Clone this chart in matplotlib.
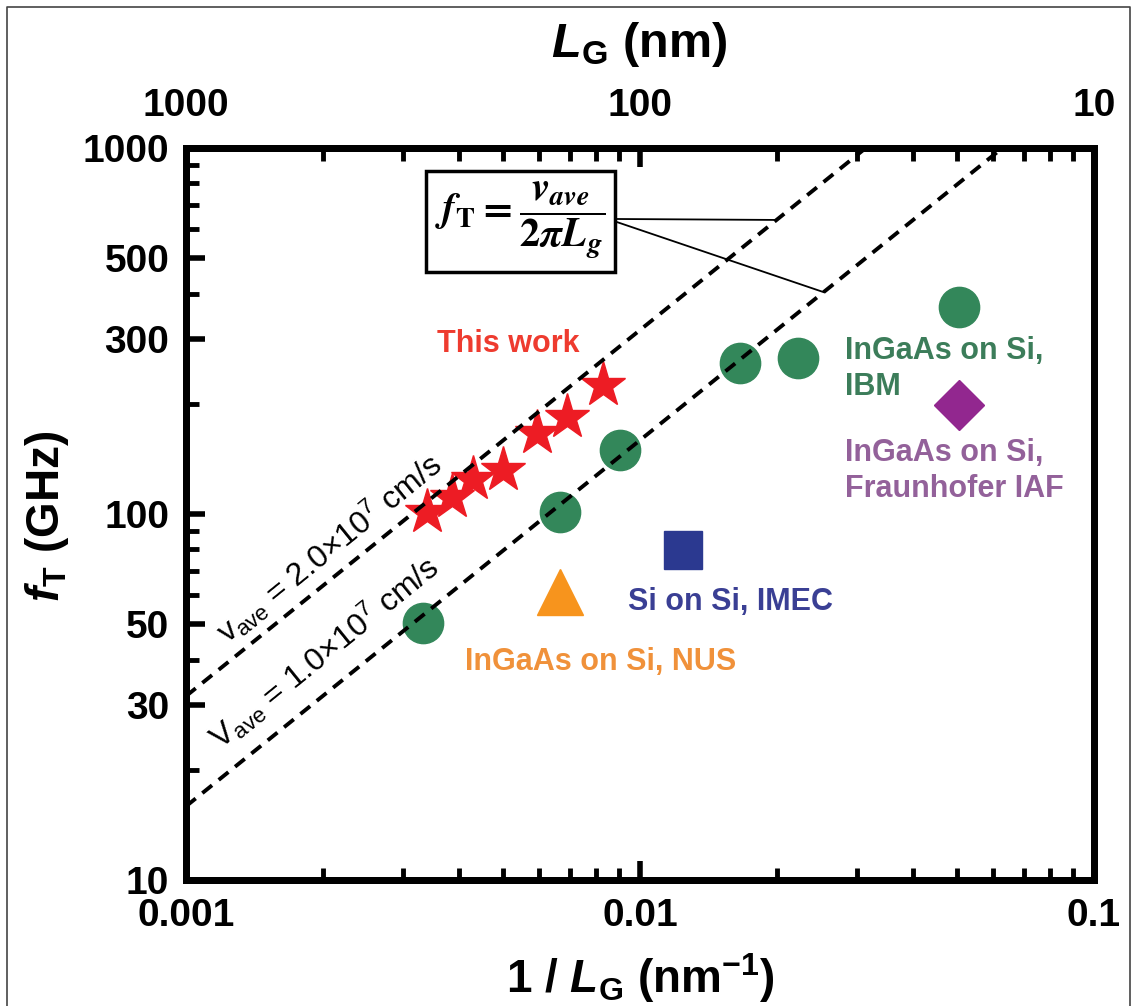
import numpy as np
import matplotlib
matplotlib.use('Agg')
import matplotlib.pyplot as plt
from matplotlib.lines import Line2D
from matplotlib.ticker import NullFormatter

plt.rcParams['font.family'] = ['Liberation Sans', 'DejaVu Sans']
plt.rcParams['font.weight'] = 'bold'
plt.rcParams['mathtext.fontset'] = 'custom'
plt.rcParams['mathtext.rm'] = 'Liberation Sans:normal'
plt.rcParams['mathtext.it'] = 'Liberation Sans:italic:normal'
plt.rcParams['mathtext.bf'] = 'Liberation Sans:bold'
plt.rcParams['mathtext.bfit'] = 'Liberation Sans:italic:bold'

# this work (stars)
star_x = [0.00340, 0.00385, 0.00428, 0.00499, 0.00593, 0.00690, 0.00828]
star_y = [101, 111, 125, 132, 166, 184, 225]
# InGaAs on Si, IBM (circles)
ibm_x = [0.00332, 0.00666, 0.00904, 0.01663, 0.02233, 0.0503]
ibm_y = [50.4, 101, 150, 258, 267, 368]
# InGaAs on Si, NUS
nus_x = [0.00666]
nus_y = [61.2]
# Si on Si, IMEC
imec_x = [0.01244]
imec_y = [79.8]
# InGaAs on Si, Fraunhofer IAF
iaf_x = [0.0503]
iaf_y = [198.6]

# v_ave guide lines, end points
line_x = [0.001, 0.1]
v2_f = [31.8, 3183]
v1_f = [15.9, 1592]

yticks = [10, 30, 50, 100, 300, 500, 1000]
ytick_labels = ['10', '30', '50', '100', '300', '500', '1000']
xticks = [0.001, 0.01, 0.1]
xtick_labels = ['0.001', '0.01', '0.1']
top_labels = ['1000', '100', '10']

red = '#ed1c24'
green = '#33875a'
orange = '#f7941d'
blue = '#2b3990'
purple = '#92278f'

W, H = 1136, 1006
fig = plt.figure(figsize=(W / 100, H / 100), dpi=100)
ax = fig.add_axes([186 / W, 126 / H, 908 / W, 732 / H])
ax.set_xscale('log')
ax.set_yscale('log')

ax.plot(ibm_x, ibm_y, ls='none', marker='o', ms=29, color=green, zorder=2)
ax.plot(star_x, star_y, ls='none', marker='*', ms=34, color=red, zorder=2)
ax.plot(nus_x, nus_y, ls='none', marker='^', ms=33, color=orange, zorder=2)
ax.plot(imec_x, imec_y, ls='none', marker='s', ms=27, color=blue, zorder=2)
ax.plot(iaf_x, iaf_y, ls='none', marker='D', ms=25, color=purple, zorder=2)

ax.plot(line_x, v2_f, color='k', lw=2.8, ls=(0, (3.2, 2.2)), zorder=3)
ax.plot(line_x, v1_f, color='k', lw=2.8, ls=(0, (3.2, 2.2)), zorder=3)

ax.set_xlim(0.001, 0.1)
ax.set_ylim(10, 1000)

ax.set_yticks(yticks)
ax.set_yticklabels(ytick_labels)
ax.set_xticks(xticks)
ax.set_xticklabels(xtick_labels)
ax.yaxis.set_minor_formatter(NullFormatter())
ax.xaxis.set_minor_formatter(NullFormatter())
ax.tick_params(which='major', direction='in', length=14, width=4, labelsize=28)
ax.tick_params(which='minor', direction='in', length=9, width=3.5)
ax.tick_params(axis='y', which='both', right=False, pad=12)
ax.tick_params(axis='x', which='both', top=False, pad=13)
for s in ax.spines.values():
    s.set_linewidth(5)

ax2 = ax.twiny()
ax2.set_xscale('log')
ax2.set_xlim(ax.get_xlim())
ax2.set_xticks(xticks)
ax2.set_xticklabels(top_labels)
ax2.xaxis.set_minor_formatter(NullFormatter())
ax2.tick_params(which='major', direction='in', length=14, width=4, labelsize=28, pad=17)
ax2.tick_params(which='minor', direction='in', length=9, width=3.5)
for s in ax2.spines.values():
    s.set_linewidth(5)

# formula box and leader lines
formula = r'$\mathbfit{f}_{\mathsf{T}} = \dfrac{\mathbfit{v}_{\mathbfit{ave}}}{\mathbf{2}\mathbfit{\pi L}_{\mathbfit{g}}}$'
ax.text(0.00545, 630, formula, math_fontfamily='stix', fontsize=29, ha='center', va='center',
        bbox=dict(boxstyle='square,pad=0.24', fc='white', ec='black', lw=2.5), zorder=5)
ax.plot([0.00849, 0.01986], [640, 636], color='k', lw=1.3, zorder=4)
ax.plot([0.00849, 0.02535], [640, 404], color='k', lw=1.3, zorder=4)

ax.text(0.00207, 80.8, r'v$_{\rm ave}$ = 2.0×10$^{\rm 7}$ cm/s', fontsize=23, fontweight='normal',
        rotation=39, rotation_mode='anchor', ha='center', va='center')
ax.text(0.00202, 42.0, r'V$_{\rm ave}$ = 1.0×10$^{\rm 7}$ cm/s', fontsize=23, fontweight='normal',
        rotation=39, rotation_mode='anchor', ha='center', va='center')

ax.text(0.00512, 291, 'This work', color='#ee3b2f', fontsize=22, ha='center', va='center')
ax.text(0.02835, 249, 'InGaAs on Si,\nIBM', color='#3c7d5a', fontsize=22, ha='left', va='center',
        linespacing=1.25)
ax.text(0.02835, 131, 'InGaAs on Si,\nFraunhofer IAF', color='#93619a', fontsize=22, ha='left',
        va='center', linespacing=1.25)
ax.text(0.00941, 57.5, 'Si on Si, IMEC', color='#3a3f94', fontsize=22, ha='left', va='center')
ax.text(0.00411, 39.3, 'InGaAs on Si, NUS', color='#f0913a', fontsize=22, ha='left', va='center')

fig.text(639 / W, 1 - 57 / H, r'$\mathbfit{L}_{\mathbf{G}}$ (nm)', fontsize=35, ha='center', va='baseline')
fig.text(640 / W, 1 - 993 / H, r'1 / $\mathbfit{L}_{\mathbf{G}}$ (nm$^{\mathbf{-1}}$)', fontsize=33,
         ha='center', va='baseline')
fig.text(47 / W, 1 - 516 / H, r'$\mathbfit{f}_{\mathbf{T}}$ (GHz)', fontsize=33, rotation=90,
         ha='center', va='center')

fig.add_artist(Line2D([7 / W, 7 / W, 1130 / W, 1130 / W], [0, 1 - 7 / H, 1 - 7 / H, 0],
                      color='#444444', lw=1.2))

fig.savefig('out.png', dpi=100)
